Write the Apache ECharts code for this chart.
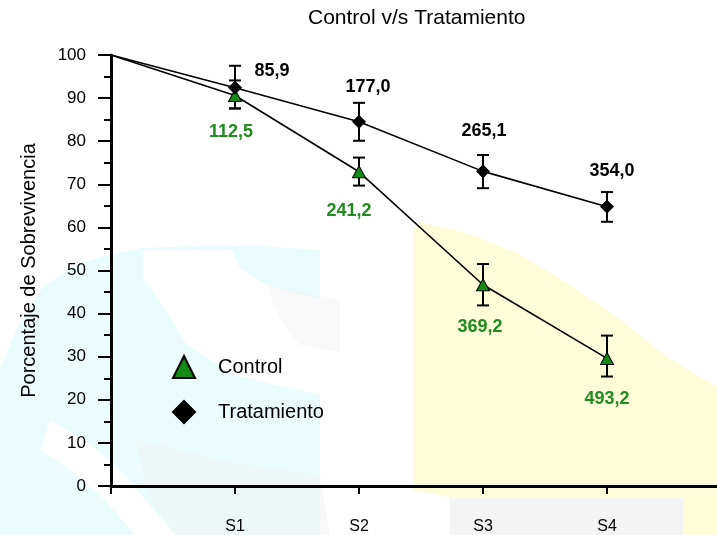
<!DOCTYPE html>
<html><head><meta charset="utf-8">
<script src="https://cdn.jsdelivr.net/npm/echarts@6/dist/echarts.min.js"></script>
<style>html,body{margin:0;padding:0;background:#fff}#c{width:717px;height:535px}</style>
</head><body><div id="c"></div>
<script>
// ---- data ----
const categories = ['', 'S1', 'S2', 'S3', 'S4'];
const controlMean  = [100, 90.6, 72.9, 46.7, 29.6];
const controlUpper = [null, 94.1, 76.2, 51.5, 34.9];
const controlLower = [null, 87.6, 69.7, 41.9, 25.4];
const tratMean  = [100, 92.4, 84.5, 73.0, 64.8];
const tratUpper = [null, 97.5, 88.9, 76.8, 68.2];
const tratLower = [null, 87.6, 80.1, 69.1, 61.3];
const controlLabels = ['', '112,5', '241,2', '369,2', '493,2'];
const tratLabels    = ['', '85,9', '177,0', '265,1', '354,0'];

// ---- styles ----
const FONT = '"Liberation Sans", Arial, Helvetica, sans-serif';
const GREEN = '#138a13';
const LABEL_GREEN = '#1f8c1f';
const CYAN = '#eafcfe';
const YELLOW = '#fffdd9';
const GRAY = '#f1f1f1';
const X_MAX = 4.887; // axis runs past the last category to the right edge
const controlLabelOffset = [[0,0],[-4,37],[-10,39],[-3,42],[0,41]];
const tratLabelOffset    = [[0,0],[37,-17],[9,-35],[1,-40],[5,-36]];
const tickValues = categories.map((c, i) => i);

function lineData(mean, labels, offsets, symbol, size) {
  return mean.map((v, i) => ({
    value: [i, v],
    symbol: i === 0 ? 'none' : symbol,
    symbolSize: size,
    label: {
      show: labels[i] !== '',
      formatter: labels[i],
      position: 'inside',
      offset: offsets[i]
    }
  }));
}
function errData(lower, upper) {
  const out = [];
  lower.forEach((lo, i) => { if (lo != null) out.push([i, lo, upper[i]]); });
  return out;
}
function errRender(params, api) {
  const x = api.value(0);
  const pLo = api.coord([x, api.value(1)]);
  const pHi = api.coord([x, api.value(2)]);
  const w = 6;
  const st = { stroke: '#000', lineWidth: 2 };
  return { type: 'group', children: [
    { type: 'line', shape: { x1: pLo[0], y1: pLo[1], x2: pHi[0], y2: pHi[1] }, style: st },
    { type: 'line', shape: { x1: pLo[0] - w, y1: pLo[1], x2: pLo[0] + w, y2: pLo[1] }, style: st },
    { type: 'line', shape: { x1: pHi[0] - w, y1: pHi[1], x2: pHi[0] + w, y2: pHi[1] }, style: st }
  ]};
}
function bg(type, shape, fill, z, opacity) {
  return { type, silent: true, z: z, shape, style: { fill, opacity: opacity == null ? 1 : opacity } };
}

const chart = echarts.init(document.getElementById('c'), null, { renderer: 'canvas' });
chart.setOption({
  backgroundColor: '#fff',
  animation: false,
  textStyle: { fontFamily: FONT },
  title: {
    text: 'Control v/s Tratamiento',
    left: 308, top: 8, padding: 0,
    textStyle: { fontFamily: FONT, fontSize: 21, fontWeight: 'normal', color: '#000' }
  },
  graphic: [
    // faint watermark background
    bg('polygon', { points: [[0,368],[20,322],[43,287],[75,265],[110,254],[143,248],[200,246],[260,246],[320,250],[320,535],[0,535]] }, CYAN, -10),
    bg('polygon', { points: [[143,250],[143,278],[160,302],[187,345],[233,375],[320,395],[320,300],[267,285],[240,268],[232,250]] }, '#ffffff', -9),
    bg('polygon', { points: [[267,286],[320,296],[340,300],[340,352],[300,345],[280,320]] }, GRAY, -8, 0.4),
    bg('polygon', { points: [[50,420],[85,440],[120,470],[150,505],[175,535],[135,535],[105,500],[70,470],[40,450]] }, '#ffffff', -9),
    bg('polygon', { points: [[135,440],[180,450],[230,462],[320,475],[330,535],[175,535],[150,500]] }, GRAY, -8, 0.5),
    bg('polygon', { points: [[413,230],[420,222],[467,233],[517,253],[567,283],[617,317],[667,357],[717,387],[717,535],[683,535],[683,497],[450,497],[413,490]] }, YELLOW, -10),
    bg('rect', { x: 450, y: 498, width: 233, height: 37 }, GRAY, -9, 0.8)
  ],
  legend: {
    orient: 'vertical', left: 167, top: 350,
    itemWidth: 22, itemHeight: 22, itemGap: 21,
    selectedMode: false,
    textStyle: { fontFamily: FONT, fontSize: 20, color: '#000', padding: [0, 0, 0, 18] },
    data: [{ name: 'Control', icon: 'triangle' }, { name: 'Tratamiento', icon: 'diamond' }]
  },
  grid: { left: 111, top: 55, right: 0, height: 437, containLabel: false },
  xAxis: [{
    type: 'value', min: 0, max: X_MAX, position: 'bottom',
    axisLine: { show: true, onZero: false, lineStyle: { color: '#000', width: 3 } },
    axisTick: { show: true, length: 8, customValues: tickValues, lineStyle: { color: '#000', width: 2 } },
    axisLabel: { margin: 33, fontFamily: FONT, fontSize: 16, color: '#000', customValues: tickValues,
      formatter: v => (categories[Math.round(v)] !== undefined) ? categories[Math.round(v)] : '' },
    splitLine: { show: false }
  }, {
    type: 'value', min: 0, max: X_MAX, position: 'top',
    axisLine: { show: true, lineStyle: { color: '#000', width: 2 } },
    axisTick: { show: false }, axisLabel: { show: false }, splitLine: { show: false }
  }],
  yAxis: {
    type: 'value', min: 0, max: 100, interval: 10,
    name: 'Porcentaje de Sobrevivencia', nameLocation: 'middle', nameGap: 72,
    nameTextStyle: { fontFamily: FONT, fontSize: 20, color: '#000' },
    axisLine: { show: true, lineStyle: { color: '#000', width: 3 } },
    axisTick: { show: true, length: 13, lineStyle: { color: '#000', width: 2 } },
    minorTick: { show: true, splitNumber: 2, length: 7, lineStyle: { color: '#000', width: 2 } },
    axisLabel: { margin: 25, fontFamily: FONT, fontSize: 17, color: '#000' },
    splitLine: { show: false }
  },
  series: [
    {
      type: 'custom', name: 'errC', renderItem: errRender, z: 1, silent: true,
      encode: { x: 0, y: [1, 2] }, data: errData(controlLower, controlUpper)
    },
    {
      type: 'custom', name: 'errT', renderItem: errRender, z: 1, silent: true,
      encode: { x: 0, y: [1, 2] }, data: errData(tratLower, tratUpper)
    },
    {
      type: 'line', name: 'Control', z: 3,
      data: lineData(controlMean, controlLabels, controlLabelOffset, 'triangle', [13, 12]),
      lineStyle: { color: '#000', width: 1.6 },
      itemStyle: { color: GREEN, borderColor: '#000', borderWidth: 1 },
      label: { fontFamily: FONT, fontSize: 18, fontWeight: 'bold', color: LABEL_GREEN },
      emphasis: { disabled: true }
    },
    {
      type: 'line', name: 'Tratamiento', z: 4,
      data: lineData(tratMean, tratLabels, tratLabelOffset, 'diamond', [13, 13]),
      lineStyle: { color: '#000', width: 1.6 },
      itemStyle: { color: '#000', borderColor: '#000', borderWidth: 1 },
      label: { fontFamily: FONT, fontSize: 18, fontWeight: 'bold', color: '#000' },
      emphasis: { disabled: true }
    }
  ]
});
</script></body></html>
